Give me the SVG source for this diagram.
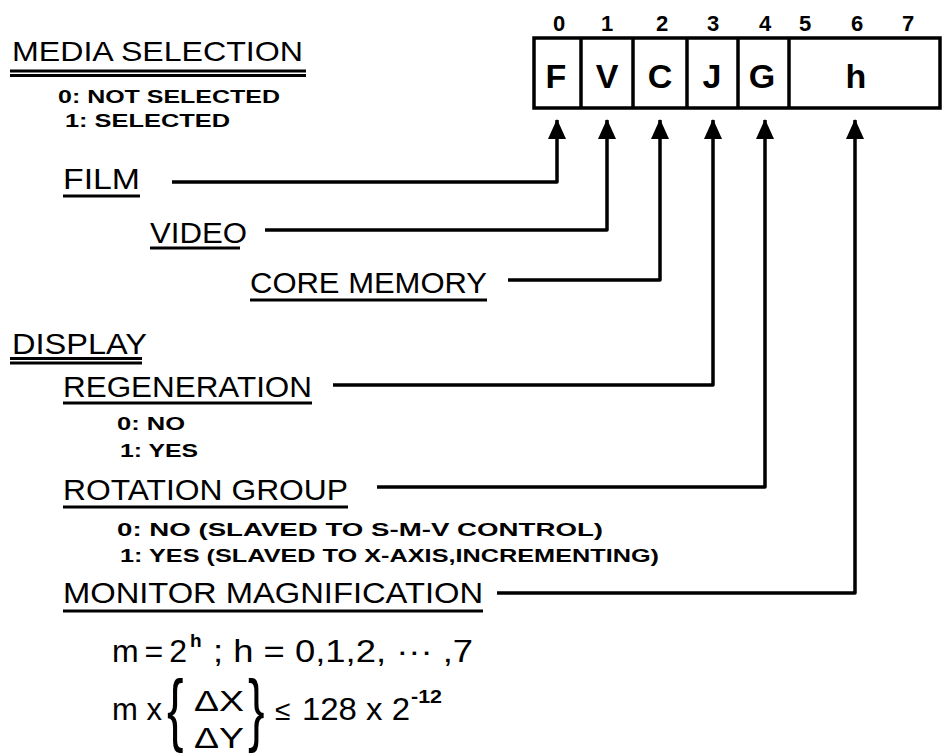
<svg xmlns="http://www.w3.org/2000/svg" width="947" height="755" viewBox="0 0 947 755">
<style>
.lbl{font-family:"Liberation Sans",Arial,sans-serif;font-size:30px;fill:#000}
.sub{font-family:"Liberation Sans",Arial,sans-serif;font-size:19px;font-weight:bold;fill:#000}
.dig{font-family:"Liberation Sans",Arial,sans-serif;font-size:22px;font-weight:bold;fill:#000;text-anchor:middle}
.cell{font-family:"Liberation Sans",Arial,sans-serif;font-size:34px;font-weight:bold;fill:#000;text-anchor:middle}
.math{font-family:"Liberation Sans",Arial,sans-serif;font-size:32px;fill:#000}
.sup{font-family:"Liberation Sans",Arial,sans-serif;font-size:19px;font-weight:bold;fill:#000}
.brace{font-family:"Liberation Sans",Arial,sans-serif;font-size:80px;fill:#000}
.ul{stroke:#000;stroke-width:3;fill:none}
.box{stroke:#000;stroke-width:3.5;fill:none}
.con{stroke:#000;stroke-width:3.5;fill:none;stroke-linejoin:round}
</style>
<defs>
<marker id="arr" markerUnits="userSpaceOnUse" markerWidth="20" markerHeight="20" viewBox="0 0 20 20" refX="19" refY="10" orient="auto">
<path d="M0,1 L20,10 L0,19 Z" fill="#000"/>
</marker>
</defs>
<rect width="947" height="755" fill="#fff"/>

<g id="register">
<text class="dig" x="559" y="31">0</text>
<text class="dig" x="607" y="31">1</text>
<text class="dig" x="662" y="31">2</text>
<text class="dig" x="713" y="31">3</text>
<text class="dig" x="765" y="31">4</text>
<text class="dig" x="805" y="31">5</text>
<text class="dig" x="857" y="31">6</text>
<text class="dig" x="908" y="31">7</text>
<rect class="box" x="534" y="38" width="406" height="70"/>
<line class="box" x1="581" y1="38" x2="581" y2="108"/>
<line class="box" x1="633" y1="38" x2="633" y2="108"/>
<line class="box" x1="687" y1="38" x2="687" y2="108"/>
<line class="box" x1="738" y1="38" x2="738" y2="108"/>
<line class="box" x1="789" y1="38" x2="789" y2="108"/>
<text class="cell" x="556" y="88">F</text>
<text class="cell" x="607" y="88">V</text>
<text class="cell" x="660" y="88">C</text>
<text class="cell" x="712" y="88">J</text>
<text class="cell" x="762" y="88">G</text>
<text class="cell" x="856" y="88">h</text>
</g>

<g id="media-selection">
<text class="lbl" x="12" y="61" style="font-size:28px" textLength="291" lengthAdjust="spacingAndGlyphs">MEDIA SELECTION</text>
<line class="ul" x1="10" y1="71" x2="306" y2="71"/>
<line class="ul" x1="10" y1="75.5" x2="306" y2="75.5"/>
<text class="sub" x="58" y="103" textLength="222" lengthAdjust="spacingAndGlyphs">0: NOT SELECTED</text>
<text class="sub" x="65" y="127" textLength="165" lengthAdjust="spacingAndGlyphs">1: SELECTED</text>
</g>

<g id="film">
<text class="lbl" x="63" y="189" textLength="77" lengthAdjust="spacingAndGlyphs">FILM</text>
<line class="ul" x1="63" y1="196" x2="140" y2="196"/>
</g>

<g id="video">
<text class="lbl" x="150" y="243" textLength="97" lengthAdjust="spacingAndGlyphs">VIDEO</text>
<line class="ul" x1="150" y1="248" x2="240" y2="248"/>
</g>

<g id="core-memory">
<text class="lbl" x="250" y="293" textLength="237" lengthAdjust="spacingAndGlyphs">CORE MEMORY</text>
<line class="ul" x1="250" y1="300" x2="487" y2="300"/>
</g>

<g id="display">
<text class="lbl" x="12" y="354" textLength="135" lengthAdjust="spacingAndGlyphs">DISPLAY</text>
<line class="ul" x1="10" y1="358.5" x2="142" y2="358.5"/>
<line class="ul" x1="10" y1="363" x2="142" y2="363"/>
</g>

<g id="regeneration">
<text class="lbl" x="63" y="397" textLength="249" lengthAdjust="spacingAndGlyphs">REGENERATION</text>
<line class="ul" x1="63" y1="403" x2="312" y2="403"/>
<text class="sub" x="117" y="430" textLength="68" lengthAdjust="spacingAndGlyphs">0: NO</text>
<text class="sub" x="120" y="457" textLength="78" lengthAdjust="spacingAndGlyphs">1: YES</text>
</g>

<g id="rotation-group">
<text class="lbl" x="63" y="500" textLength="285" lengthAdjust="spacingAndGlyphs">ROTATION  GROUP</text>
<line class="ul" x1="63" y1="507" x2="348" y2="507"/>
<text class="sub" x="117" y="536" textLength="486" lengthAdjust="spacingAndGlyphs">0: NO (SLAVED TO S-M-V CONTROL)</text>
<text class="sub" x="120" y="562" textLength="539" lengthAdjust="spacingAndGlyphs">1: YES (SLAVED TO X-AXIS,INCREMENTING)</text>
</g>

<g id="monitor-magnification">
<text class="lbl" x="63" y="603" textLength="420" lengthAdjust="spacingAndGlyphs">MONITOR  MAGNIFICATION</text>
<line class="ul" x1="63" y1="611" x2="483" y2="611"/>
<text class="math" x="112" y="662" style="word-spacing:-3px">m = 2<tspan class="sup" x="190" dy="-15">h</tspan></text>
<text class="math" x="213" y="662" textLength="260" lengthAdjust="spacingAndGlyphs">; h = 0,1,2,  ··· ,7</text>
<text class="math" x="112" y="720" textLength="50" lengthAdjust="spacingAndGlyphs">m x</text>
<text class="brace" transform="translate(167,736) scale(0.62,1)">{</text>
<text class="math" x="194" y="711" style="font-size:30px" textLength="50" lengthAdjust="spacingAndGlyphs">ΔX</text>
<text class="math" x="194" y="748" style="font-size:30px" textLength="50" lengthAdjust="spacingAndGlyphs">ΔY</text>
<text class="brace" transform="translate(248,736) scale(0.62,1)">}</text>
<text class="math" x="275" y="720" style="font-size:28px">≤</text>
<text class="math" x="302" y="720" textLength="108" lengthAdjust="spacingAndGlyphs">128 x 2</text>
<text class="sup" x="411" y="703" textLength="31" lengthAdjust="spacingAndGlyphs">-12</text>
</g>

<g id="connectors">
<path class="con" d="M172,182 H557 V120" marker-end="url(#arr)"/>
<path class="con" d="M265,230 H607 V120" marker-end="url(#arr)"/>
<path class="con" d="M508,280 H660 V120" marker-end="url(#arr)"/>
<path class="con" d="M333,385 H713 V120" marker-end="url(#arr)"/>
<path class="con" d="M377,487 H765 V120" marker-end="url(#arr)"/>
<path class="con" d="M497,593 H855 V120" marker-end="url(#arr)"/>
</g>
</svg>
